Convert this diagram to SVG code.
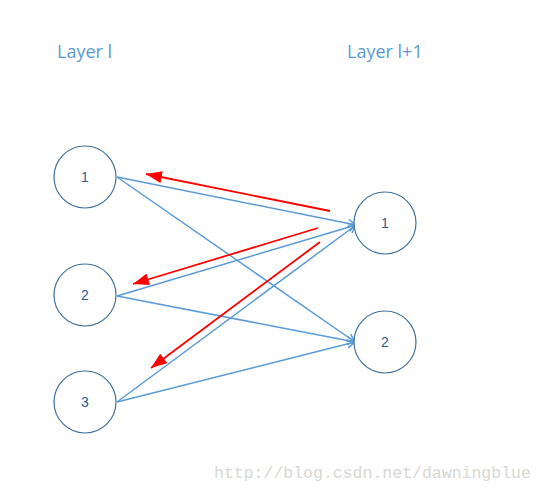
<svg xmlns="http://www.w3.org/2000/svg" width="545" height="493" viewBox="0 0 545 493">
<style>
.node circle{fill:#fff;stroke:#41719C;stroke-width:1.2}
.node text{font-family:"Liberation Sans",Arial,sans-serif;font-size:14px;fill:#2F5E8E;text-anchor:middle}
.title{font-family:"Open Sans","Liberation Sans",sans-serif;font-size:18px;fill:#5B9BD5}
.blue{stroke:#5B9BD5;stroke-width:1.5;fill:none;marker-end:url(#open)}
.red{stroke:#FF0000;stroke-width:1.8;fill:none;marker-end:url(#tri)}
.wm{font-family:"Liberation Mono","DejaVu Sans Mono",monospace;font-size:16.5px;fill:#D8D8D4}
</style>
<defs>
<marker id="open" markerWidth="10" markerHeight="10" refX="9" refY="5" orient="auto" markerUnits="userSpaceOnUse">
<path d="M1,1 L9,5 L1,9" fill="none" stroke="#5B9BD5" stroke-width="1.5"/>
</marker>
<marker id="tri" markerWidth="18" markerHeight="12" refX="16" refY="6" orient="auto" markerUnits="userSpaceOnUse">
<path d="M0,0 L16,6 L0,12 Z" fill="#FF0000"/>
</marker>
</defs>
<rect width="545" height="493" fill="#fff"/>
<text class="title" x="57" y="58">Layer l</text>
<text class="title" x="347" y="58">Layer l+1</text>
<g id="connectors">
<line class="blue" x1="117" y1="177" x2="356" y2="225"/>
<line class="blue" x1="117" y1="177" x2="355" y2="342"/>
<line class="blue" x1="117" y1="296" x2="356" y2="225"/>
<line class="blue" x1="117" y1="296" x2="355" y2="342"/>
<line class="blue" x1="117" y1="402" x2="356" y2="225"/>
<line class="blue" x1="117" y1="402" x2="355" y2="342"/>
<line class="red" x1="330" y1="211" x2="146" y2="174"/>
<line class="red" x1="318" y1="228" x2="133" y2="284"/>
<line class="red" x1="320" y1="242" x2="151" y2="368"/>
</g>
<g id="n1" class="node"><circle cx="85" cy="177" r="31"/><text x="85" y="182">1</text></g>
<g id="n2" class="node"><circle cx="85" cy="295" r="31"/><text x="85" y="300">2</text></g>
<g id="n3" class="node"><circle cx="85" cy="402" r="31"/><text x="85" y="407">3</text></g>
<g id="m1" class="node"><circle cx="385" cy="223" r="31"/><text x="385" y="228">1</text></g>
<g id="m2" class="node"><circle cx="385" cy="342" r="31"/><text x="385" y="347">2</text></g>
<text class="wm" x="214" y="478">http://blog.csdn.net/dawningblue</text>
</svg>
